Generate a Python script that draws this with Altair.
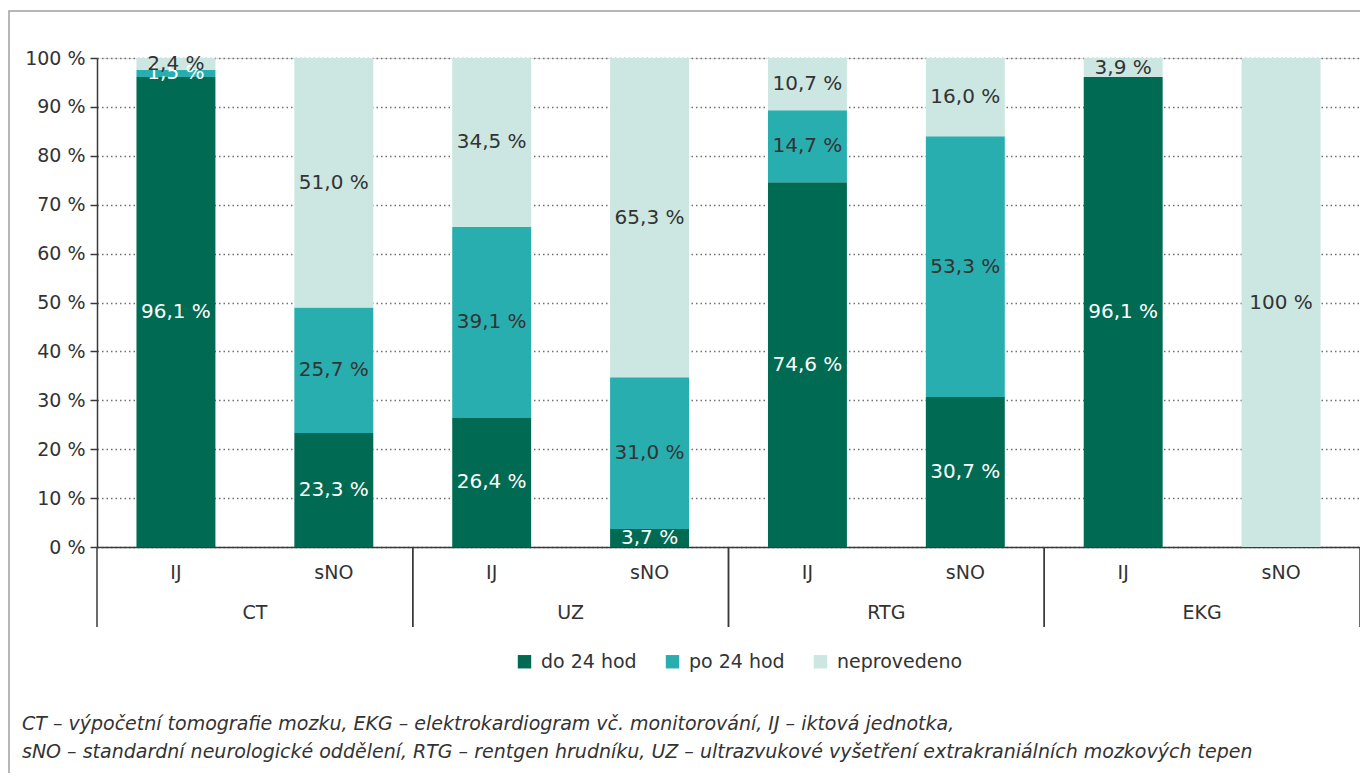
import altair as alt
import pandas as pd

groups = ["CT", "UZ", "RTG", "EKG"]
subs = ["IJ", "sNO"]
series = ["do 24 hod", "po 24 hod", "neprovedeno"]
colors = ["#006A52", "#29AEB0", "#CCE7E1"]

do24 = [96.1, 23.3, 26.4, 3.7, 74.6, 30.7, 96.1, 0.0]
po24 = [1.5, 25.7, 39.1, 31.0, 14.7, 53.3, 0.0, 0.0]
nepr = [2.4, 51.0, 34.5, 65.3, 10.7, 16.0, 3.9, 100.0]

y_ticks = [0, 10, 20, 30, 40, 50, 60, 70, 80, 90, 100]

footnote = [
    "CT – výpočetní tomografie mozku, EKG – elektrokardiogram vč. monitorování, IJ – iktová jednotka,",
    "sNO – standardní neurologické oddělení, RTG – rentgen hrudníku, UZ – ultrazvukové vyšetření extrakraniálních mozkových tepen",
]


def fmt(v):
    if v == 100:
        return "100 %"
    return f"{v:.1f}".replace(".", ",") + " %"


keys = []
rows = []
for gi, g in enumerate(groups):
    for si, s in enumerate(subs):
        k = gi * 2 + si
        key = f"{g}|{s}"
        keys.append(key)
        for idx, (name, vals) in enumerate(zip(series, [do24, po24, nepr])):
            v = vals[k]
            rows.append(dict(key=key, group=g, sub=s, series=name, idx=idx,
                             value=v, label=fmt(v)))
df = pd.DataFrame(rows)
gdf = pd.DataFrame({"group": groups})

W, H = 1263, 489
FONT = "DejaVu Sans"
TXT = "#333333"

key_scale = alt.Scale(domain=keys, paddingInner=0.5, paddingOuter=0.25)
grp_scale = alt.Scale(domain=groups, paddingInner=0, paddingOuter=0)
y_scale = alt.Scale(domain=[0, 100], nice=False)

y_axis = alt.Axis(title=None, values=y_ticks,
                  labelExpr="datum.value + ' %'",
                  grid=True, gridDash=[1.5, 3], gridColor="#707070",
                  gridWidth=1.5,
                  tickSize=7, tickColor="#3a3a3a", tickWidth=1.5,
                  domainColor="#3a3a3a", domainWidth=1.5,
                  labelPadding=5, labelFontSize=19, labelColor=TXT,
                  labelFont=FONT)

bars = alt.Chart(df).mark_bar().encode(
    x=alt.X("key:N", scale=key_scale,
            axis=alt.Axis(title=None, labelExpr="split(datum.label, '|')[1]",
                          ticks=False, domainColor="#3a3a3a", domainWidth=1.5,
                          labelPadding=16, labelFontSize=19, labelColor=TXT,
                          labelFont=FONT, labelAngle=0, grid=False)),
    y=alt.Y("value:Q", stack="zero", scale=y_scale, axis=y_axis),
    color=alt.Color("series:N", scale=alt.Scale(domain=series, range=colors),
                    legend=alt.Legend(title=None, orient="none", legendX=418,
                                      legendY=594, direction="horizontal",
                                      symbolType="square", symbolSize=180,
                                      symbolStrokeWidth=0, labelFontSize=19,
                                      labelFont=FONT, labelColor=TXT,
                                      labelOffset=7, columnPadding=26,
                                      padding=0)),
    order=alt.Order("idx:Q", sort="ascending"),
)

labels = alt.Chart(df).transform_stack(
    stack="value", groupby=["key"], as_=["y0", "y1"],
    sort=[alt.SortField("idx", order="ascending")],
).transform_calculate(
    mid="(datum.y0 + datum.y1) / 2"
).transform_filter("datum.value > 0").mark_text(
    fontSize=20, font=FONT, baseline="middle"
).encode(
    x=alt.X("key:N", scale=key_scale, axis=None),
    y=alt.Y("mid:Q", scale=y_scale, axis=y_axis),
    text="label:N",
    color=alt.condition("datum.idx == 0 || datum.value < 2",
                        alt.value("#ffffff"), alt.value(TXT)),
)

grp_text = alt.Chart(gdf).mark_text(
    fontSize=19, font=FONT, color=TXT, baseline="middle"
).encode(
    x=alt.X("group:N", scale=grp_scale, axis=None),
    y=alt.value(H + 66),
    text="group:N",
)

sep0 = alt.Chart(gdf).mark_rule(color="#3a3a3a", strokeWidth=1.5).encode(
    x=alt.X("group:N", scale=grp_scale, axis=None, bandPosition=0),
    y=alt.value(H), y2=alt.value(H + 80),
)
sep1 = alt.Chart(gdf).mark_rule(color="#3a3a3a", strokeWidth=1.5).encode(
    x=alt.X("group:N", scale=grp_scale, axis=None, bandPosition=1),
    y=alt.value(H), y2=alt.value(H + 80),
)

frame = alt.Chart(pd.DataFrame({"a": [0]})).mark_rect(
    fill="transparent", stroke="#a0a0a0", strokeWidth=1.5
).encode(
    x=alt.value(-88), x2=alt.value(W + 40),
    y=alt.value(-47), y2=alt.value(H + 400),
)

foot_layers = []
for i, line in enumerate(footnote):
    foot_layers.append(
        alt.Chart(pd.DataFrame({"t": [line]})).mark_text(
            fontSize=19, font=FONT, fontStyle="italic", color=TXT,
            align="left", baseline="middle"
        ).encode(x=alt.value(-75), y=alt.value(H + 177 + 28 * i), text="t:N")
    )

chart = alt.layer(
    frame, bars, labels, sep0, sep1, grp_text, *foot_layers
).resolve_scale(x="independent").properties(
    width=W, height=H,
    autosize=alt.AutoSizeParams(type="none"),
    padding={"left": 89, "top": 50, "right": 0, "bottom": 226},
).configure_view(stroke=None).configure(background="white")

chart.save("out.html", embed_options={"renderer": "svg", "actions": False})
